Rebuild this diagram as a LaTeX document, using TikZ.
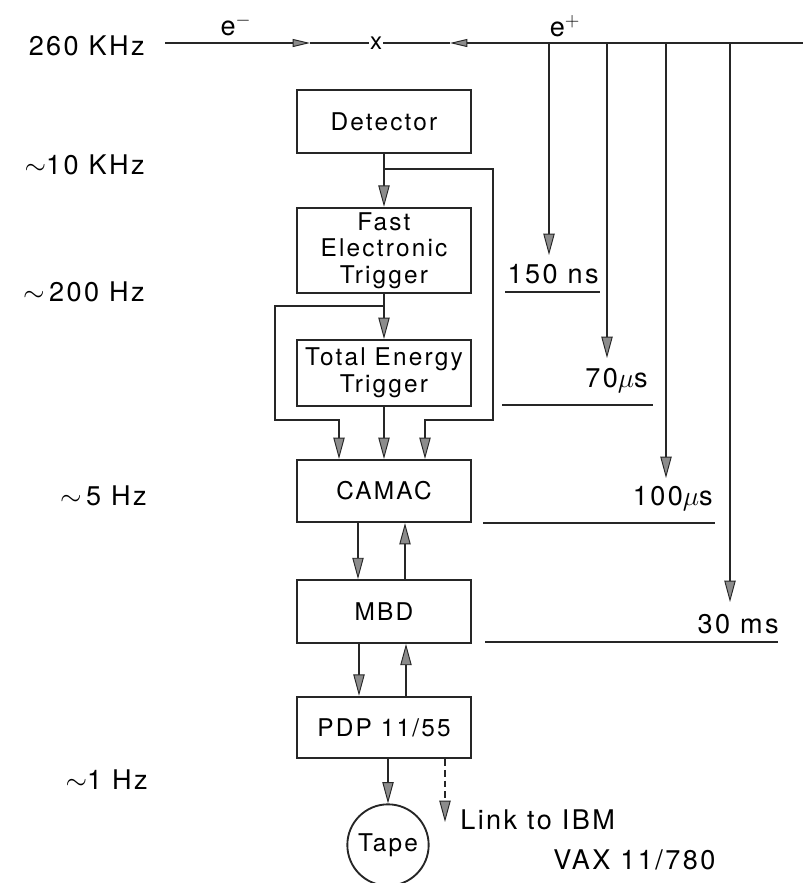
\documentclass[tikz,border=0pt]{standalone}
\usepackage{fontspec}
\setmainfont{TeX Gyre Heros}[LetterSpace=9]
\usetikzlibrary{arrows.meta,calc}
\begin{document}
\begin{tikzpicture}[x=0.75pt,y=-0.75pt,
  box/.style={draw=black!85,line width=1.6pt,minimum width=131pt,inner sep=0pt,align=center,
    font=\fontsize{18.3}{20}\selectfont},
  lab/.style={font=\fontsize{20.3}{22}\selectfont,inner sep=0pt},
  tip/.style={-{Triangle[length=16pt,width=8.5pt,fill=black!45,line width=0.7pt]}},
  btip/.style={-{Triangle[length=13pt,width=6pt,fill=black!45,line width=0.7pt]}},
  flow/.style={line width=1.6pt,draw=black!85,tip},
  thinl/.style={line width=1.2pt,draw=black!85}]
\useasboundingbox (0,0) rectangle (803,883);

% boxes
\node[box,minimum height=47pt] (det) at (384,121.5) {Detector};
\node[box,minimum height=64pt] (fast) at (384,250.5) {Fast\\Electronic\\Trigger};
\node[box,minimum height=49.5pt] (tet) at (384,373) {Total Energy\\Trigger};
\node[box,minimum height=46.5pt] (cam) at (384,491) {CAMAC};
\node[box,minimum height=47pt] (mbd) at (384,611.5) {MBD};
\node[box,minimum height=46pt] (pdp) at (384,727.5) {PDP 11/55};
\node[draw=black!85,line width=1.4pt,circle,minimum size=61pt,inner sep=0pt,
  font=\fontsize{18.3}{20}\selectfont] (tape) at (388,845) {Tape};

% main flow
\draw[flow] (det.south) -- (fast.north);
\draw[flow] (fast.south) -- (tet.north);
\draw[flow] (tet.south) -- (cam.north);
\coordinate (b1) at ($(det.south)+(0,15)$);
\coordinate (b2) at ($(fast.south)+(0,12)$);
\draw[flow] (b1) -- ++(109,0) |- ($(cam.north)+(41,-39)$) -- ($(cam.north)+(41,0)$);
\draw[flow] (b2) -- ++(-109,0) |- ($(cam.north)+(-45,-39)$) -- ($(cam.north)+(-45,0)$);
\draw[flow] ($(cam.south)+(-26,0)$) -- ($(mbd.north)+(-26,0)$);
\draw[flow] ($(mbd.north)+(21,0)$) -- ($(cam.south)+(21,0)$);
\draw[flow] ($(mbd.south)+(-25,0)$) -- ($(pdp.north)+(-25,0)$);
\draw[flow] ($(pdp.north)+(22,0)$) -- ($(mbd.south)+(22,0)$);
\draw[flow] (tape.north |- pdp.south) -- (tape.north);
\coordinate (lk) at (445,822);
\draw[flow,dash pattern=on 5pt off 3pt] (pdp.south -| lk) -- (lk);
\node[lab,anchor=west] (lnk) at (460,820) {Link to IBM};
\node[lab,anchor=west] (vax) at (553,860) {VAX 11/780};

% beam line
\coordinate (bs) at (165,43);
\coordinate (be) at (803,43);
\coordinate (ea) at (310,43);
\coordinate (pa) at (450,43);
\node[font=\fontsize{18}{18}\selectfont,inner sep=0.5pt] (xm) at (376,43) {x};
\draw[thinl,btip] (bs) -- (ea);
\draw[thinl] (ea) -- (xm.west);
\draw[thinl,btip] (be) -- (pa);
\draw[thinl] (pa) -- (xm.east);
\node[lab] (em) at (236,25) {e$^{-}$};
\node[lab] (ep) at (565,26) {e$^{+}$};

% timing drops
\coordinate (v1t) at (549,43); \coordinate (v1b) at (549,255);
\coordinate (v2t) at (607,43); \coordinate (v2b) at (607,358);
\coordinate (v3t) at (666,43); \coordinate (v3b) at (666,478);
\coordinate (v4t) at (730,43); \coordinate (v4b) at (730,602);
\draw[thinl,tip] (v1t) -- (v1b);
\draw[thinl,tip] (v2t) -- (v2b);
\draw[thinl,tip] (v3t) -- (v3b);
\draw[thinl,tip] (v4t) -- (v4b);

% timing labels and underlines
\node[lab,anchor=east] (t1) at (599,274) {150 ns};
\node[lab,anchor=east] (t2) at (648,381) {70$\mu$s};
\node[lab,anchor=east] (t3) at (713,499) {100$\mu$s};
\node[lab,anchor=east] (t4) at (779,624) {30 ms};
\coordinate (u1a) at (505,292); \coordinate (u1b) at (600,292);
\coordinate (u2a) at (502,405); \coordinate (u2b) at (653,405);
\coordinate (u3a) at (483,523); \coordinate (u3b) at (715,523);
\coordinate (u4a) at (485,642); \coordinate (u4b) at (778,642);
\draw[thinl] (u1a) -- (u1b);
\draw[thinl] (u2a) -- (u2b);
\draw[thinl] (u3a) -- (u3b);
\draw[thinl] (u4a) -- (u4b);

% rate labels
\node[lab,anchor=east] (f0) at (145,46) {260 KHz};
\node[lab,anchor=east] (f1) at (145,165) {$\sim$10 KHz};
\node[lab,anchor=east] (f2) at (145,292) {$\sim$\,200 Hz};
\node[lab,anchor=east] (f3) at (147,496) {$\sim$\,5 Hz};
\node[lab,anchor=east] (f4) at (148,780) {$\sim$1 Hz};
\end{tikzpicture}
\end{document}
